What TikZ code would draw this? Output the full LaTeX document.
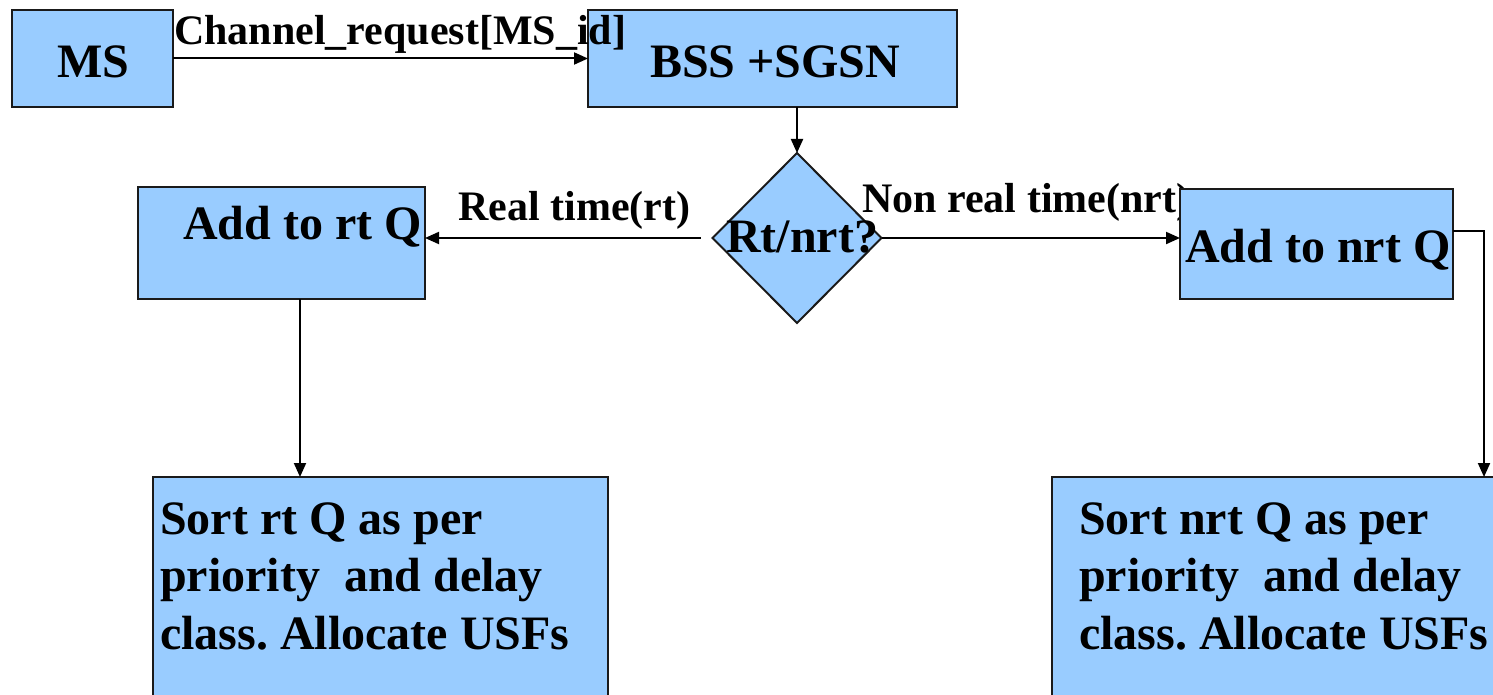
\documentclass[tikz,border=0pt]{standalone}
\usepackage{fontspec}
\setmainfont{Liberation Serif}
\usetikzlibrary{shapes.geometric,arrows.meta,calc}
\definecolor{qblue}{HTML}{99CCFF}
\definecolor{edge}{HTML}{1A1A1A}
\frenchspacing
\begin{document}
\begin{tikzpicture}[x=1pt,y=-1pt,
  box/.style={draw=edge, line width=2pt, fill=qblue, inner sep=0pt, outer sep=0pt},
  big/.style={font=\bfseries\fontsize{48}{57.5}\selectfont, inner sep=0pt, anchor=base west},
  lab/.style={font=\bfseries\fontsize{42}{48}\selectfont, inner sep=0pt, anchor=base west},
  flow/.style={draw=black, line width=2pt, -{Triangle[length=14pt,width=12pt]}}]
\useasboundingbox (0,0) rectangle (1493,695);
\fill[white] (0,0) rectangle (1493,695);

% top row
\node[box, minimum width=161pt, minimum height=97pt] (ms) at (92.5,58.5) {};
\node[big] (msT) at (57,78) {MS};
\node[box, minimum width=369pt, minimum height=97pt] (bss) at (772.5,58.5) {};
\node[big] (bssT) at (650,78) {BSS +SGSN};
\draw[flow] (ms.east) -- (bss.west);
\node[lab] (reqL) at (174,45) {Channel\_request[MS\_id]};

% decision
\node[box, shape=diamond, minimum width=169pt, minimum height=170pt] (dia) at (797,238) {};
\draw[flow] (dia.north |- bss.south) -- (dia.north);

% queues
\node[box, minimum width=287pt, minimum height=112pt] (rt) at (281.5,243) {};
\node[big] (rtT) at (183,240) {Add to rt Q};
\node[lab] (nrtL) at (862,212) {Non real time(nrt)};
\node[box, minimum width=273pt, minimum height=110pt] (nrt) at (1316.5,244) {};
\node[big] (nrtT) at (1185,262) {Add to nrt Q};
\node[lab] (rtL) at (458,220) {Real time(rt)};

\coordinate (gap) at ($(dia.west)+(-12,0)$);
\draw[flow] (gap) -- (gap -| rt.east);
\draw[flow] (dia.east) -- (dia.east -| nrt.west);
\node[big] (diaT) at (726,252) {Rt/nrt?};

% sorting boxes
\node[box, minimum width=455pt, minimum height=243pt] (srt) at (380.5,598.5) {};
\node[big] (srt1) at (160,534) {Sort rt Q as per};
\node[big] (srt2) at (160,591.5) {priority\ \ and delay};
\node[big] (srt3) at (160,649) {class. Allocate USFs};
\node[box, minimum width=478pt, minimum height=243pt] (snrt) at (1291,598.5) {};
\node[big] (snrt1) at (1079,534) {Sort nrt Q as per};
\node[big] (snrt2) at (1079,591.5) {priority\ \ and delay};
\node[big] (snrt3) at (1079,649) {class. Allocate USFs};

\coordinate (rtdown) at (300,299);
\draw[flow] (rtdown |- rt.south) -- (rtdown |- srt.north);
\coordinate (bend) at (1484,231);
\draw[flow] (bend -| nrt.east) -- (bend) -- (bend |- snrt.north);
\end{tikzpicture}
\end{document}
